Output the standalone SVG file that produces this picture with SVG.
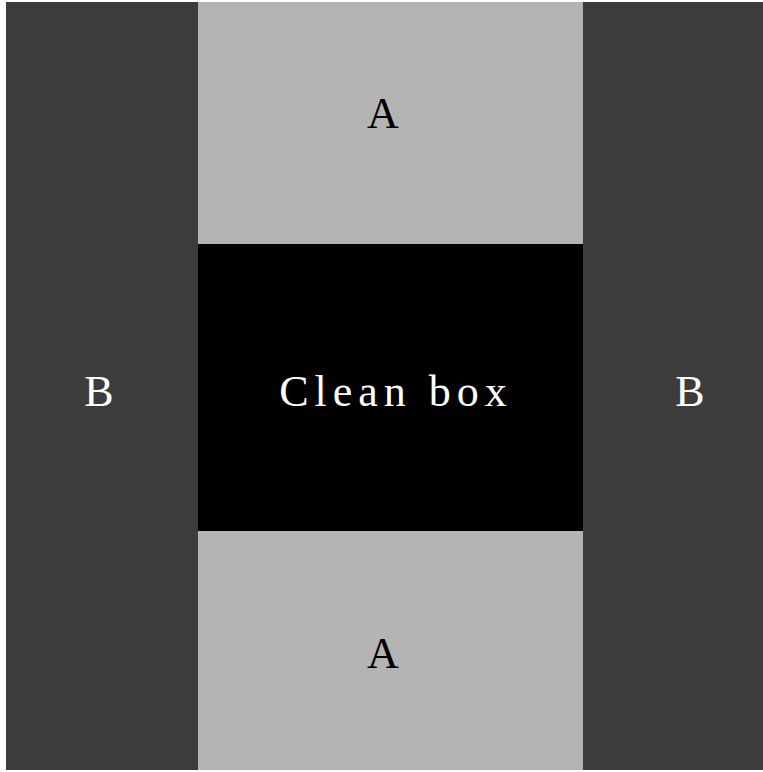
<svg xmlns="http://www.w3.org/2000/svg" width="763" height="772" viewBox="0 0 763 772">
<style>
.t{font-family:"Liberation Serif","DejaVu Serif",serif;font-size:44px;text-anchor:middle}
.dark{fill:#3c3c3c}
.light{fill:#b4b4b4}
</style>
<rect width="763" height="772" fill="#ffffff"/>
<g id="B-left"><rect class="dark" x="6" y="2" width="192" height="768"/><text class="t" x="99" y="406" fill="#ffffff">B</text></g>
<g id="B-right"><rect class="dark" x="583" y="2" width="180" height="768"/><text class="t" x="690" y="406" fill="#ffffff">B</text></g>
<g id="A-top"><rect class="light" x="198" y="2" width="385" height="242"/><text class="t" x="383" y="128" fill="#000000">A</text></g>
<g id="A-bottom"><rect class="light" x="198" y="531" width="385" height="239"/><text class="t" x="383" y="668" fill="#000000">A</text></g>
<g id="clean-box"><rect x="198" y="244" width="385" height="287" fill="#000000"/><text class="t" x="396" y="406" fill="#ffffff" letter-spacing="6">Clean box</text></g>
<g id="connectors"/>
</svg>
